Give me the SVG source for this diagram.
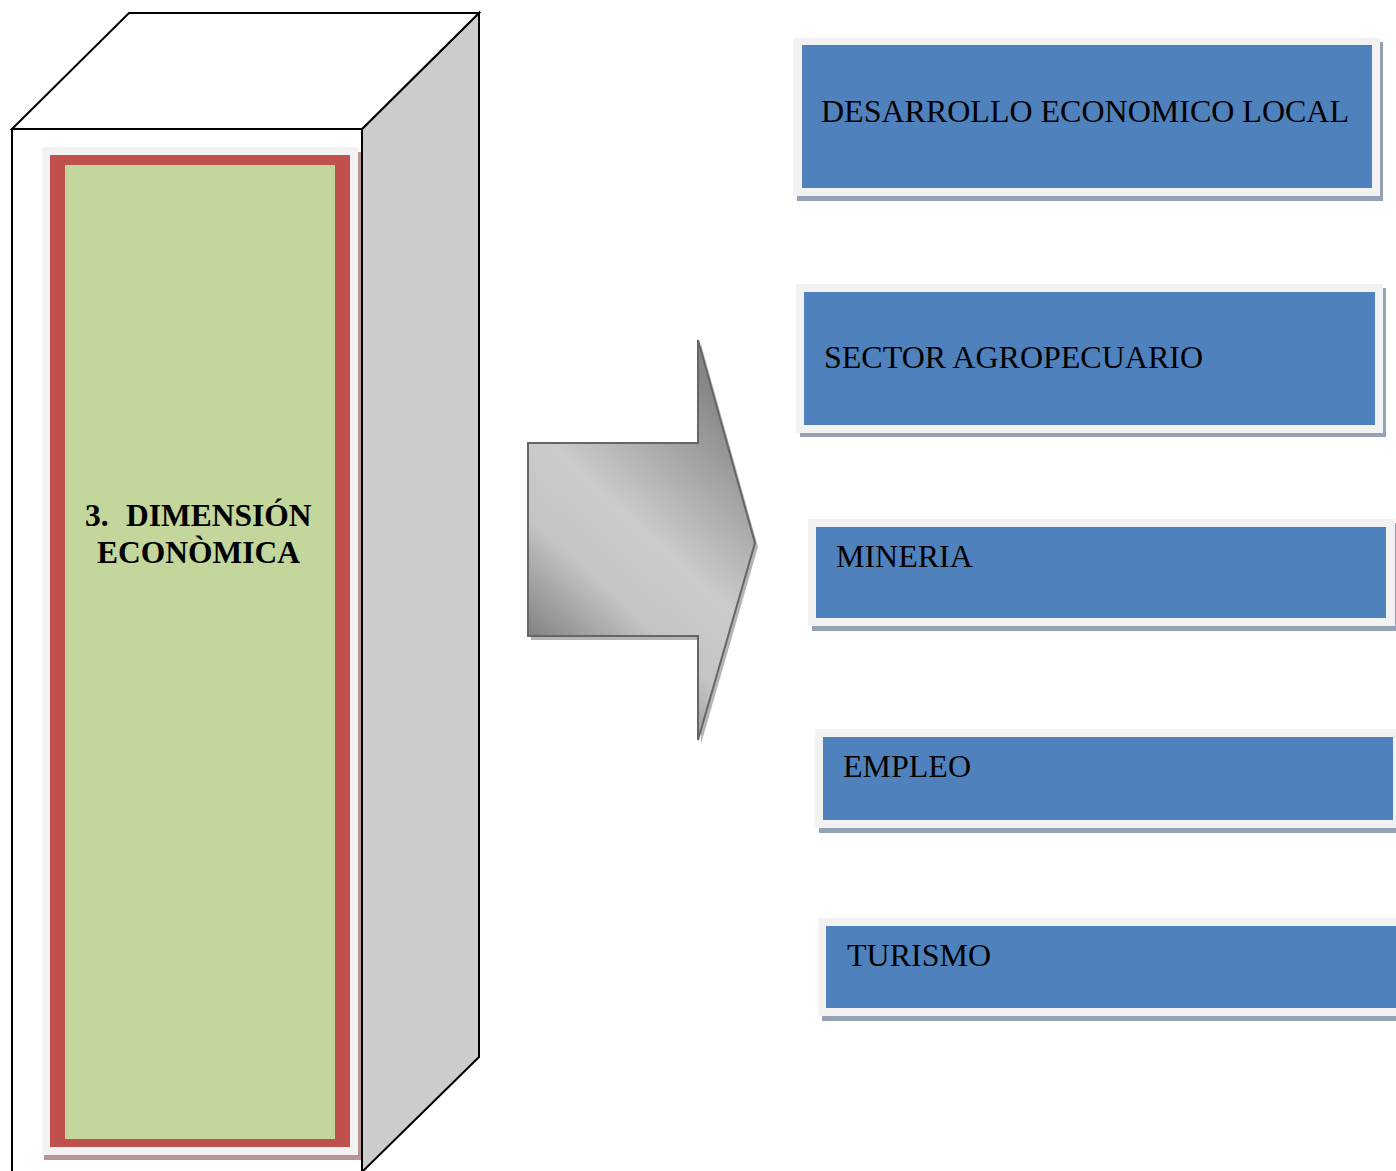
<svg xmlns="http://www.w3.org/2000/svg" width="1396" height="1171" viewBox="0 0 1396 1171">
<style>
.edge{stroke:#000;stroke-width:2;stroke-linejoin:miter}
.frame{fill:#f2f2f2}
.bshadow{fill:#95a1b5}
.blue{fill:#4f81bd}
.lbl{font-family:"Liberation Serif",serif;font-size:32px;fill:#000}
.ttl{font-family:"Liberation Serif",serif;font-size:31.5px;font-weight:bold;fill:#000}
</style>
<defs>
<linearGradient id="ag" gradientUnits="userSpaceOnUse" x1="530" y1="680" x2="760" y2="430">
<stop offset="0" stop-color="#6a6a6a"/>
<stop offset="0.35" stop-color="#c4c4c4"/>
<stop offset="0.55" stop-color="#cbcbcb"/>
<stop offset="1" stop-color="#858585"/>
</linearGradient>
</defs>
<rect width="1396" height="1171" fill="#fff"/>
<g id="cube">
<polygon class="edge" points="479,13 479,1057 362,1172 362,129" fill="#cccccc"/>
<polygon class="edge" points="12,129 129,13 479,13 362,129" fill="#fff"/>
<rect class="edge" x="12" y="129" width="350" height="1050" fill="#fff"/>
<rect x="44" y="152" width="317" height="1008" fill="#b89494"/>
<rect class="frame" x="42" y="147" width="316" height="1008"/>
<rect x="50" y="155" width="300" height="992" fill="#c0504d"/>
<rect x="65" y="165" width="270" height="974" fill="#c3d69b"/>
<text class="ttl"><tspan x="85" y="526">3.</tspan><tspan x="126" y="526">DIMENSIÓN</tspan><tspan x="97" y="563">ECONÒMICA</tspan></text>
</g>
<g id="connectors">
<polygon points="531,447 701,447 701,344 758,547 701,744 701,640 531,640" fill="#b5b5b5"/>
<polygon points="528,443 698,443 698,340 755,543 698,740 698,636 528,636" fill="url(#ag)" stroke="#666" stroke-width="2"/>
</g>
<g id="n1">
<rect class="bshadow" x="797" y="42" width="586" height="159"/>
<rect class="frame" x="793" y="38" width="587" height="158"/>
<rect class="blue" x="802" y="45" width="570" height="143"/>
<text class="lbl" x="821" y="122">DESARROLLO ECONOMICO LOCAL</text>
</g>
<g id="n2">
<rect class="bshadow" x="800" y="288" width="586" height="149"/>
<rect class="frame" x="796" y="284" width="587" height="149"/>
<rect class="blue" x="804" y="292" width="571" height="133"/>
<text class="lbl" x="824" y="368">SECTOR AGROPECUARIO</text>
</g>
<g id="n3">
<rect class="bshadow" x="812" y="523" width="586" height="108"/>
<rect class="frame" x="808" y="519" width="587" height="107"/>
<rect class="blue" x="816" y="527" width="570" height="91"/>
<text class="lbl" x="836" y="567">MINERIA</text>
</g>
<g id="n4">
<rect class="bshadow" x="819" y="733" width="586" height="100"/>
<rect class="frame" x="815" y="729" width="587" height="99"/>
<rect class="blue" x="823" y="737" width="570" height="83"/>
<text class="lbl" x="843" y="777">EMPLEO</text>
</g>
<g id="n5">
<rect class="bshadow" x="822" y="922" width="586" height="99"/>
<rect class="frame" x="818" y="918" width="587" height="98"/>
<rect class="blue" x="826" y="926" width="580" height="82"/>
<text class="lbl" x="847" y="966">TURISMO</text>
</g>
</svg>
